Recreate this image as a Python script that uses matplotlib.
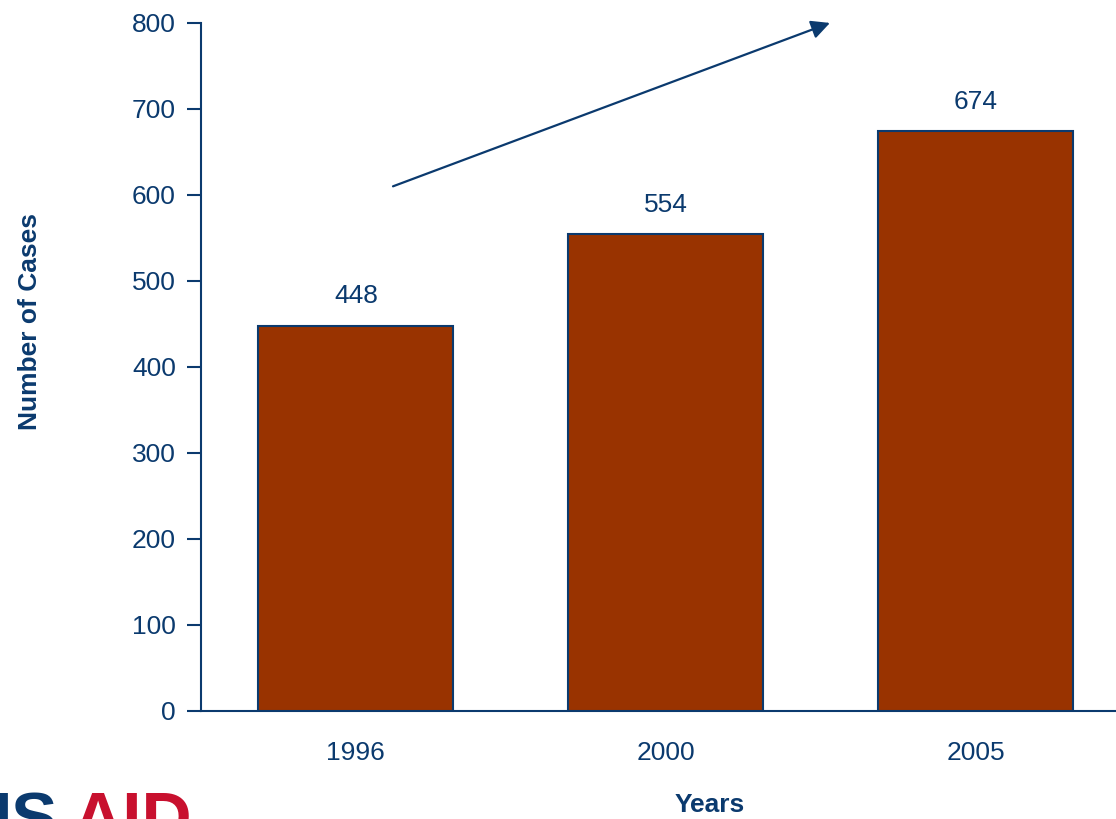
import matplotlib.pyplot as plt

plt.rcParams['font.family'] = ['Liberation Sans', 'DejaVu Sans']

# data
years = ['1996', '2000', '2005']
cases = [448, 554, 674]

NAVY = '#0B3A6E'
BAR = '#993300'

fig = plt.figure(figsize=(11.16, 8.19), dpi=100)
ax = fig.add_axes([0.180, 0.132, 0.833, 0.840])

x = range(len(years))
ax.bar(x, cases, width=0.63, color=BAR, edgecolor=NAVY, linewidth=1.5, zorder=3)
for xi, v in zip(x, cases):
    ax.text(xi, v + 20, str(v), ha='center', va='bottom', fontsize=19, color=NAVY)

ax.set_xlim(-0.5, 2.5)
ax.set_ylim(0, 800)
ax.set_yticks(range(0, 801, 100))
ax.set_xticks(list(x))
ax.set_xticklabels(years)
ax.tick_params(axis='y', direction='out', length=10, width=1.5, color=NAVY,
               labelcolor=NAVY, labelsize=19, pad=8)
ax.tick_params(axis='x', length=0, labelcolor=NAVY, labelsize=19, pad=22)
for s in ['top', 'right']:
    ax.spines[s].set_visible(False)
for s in ['left', 'bottom']:
    ax.spines[s].set_color(NAVY)
    ax.spines[s].set_linewidth(1.5)

# trend arrow
ax.annotate('', xy=(1.53, 800), xytext=(0.12, 610),
            arrowprops=dict(arrowstyle='-|>', color=NAVY, lw=1.6,
                            mutation_scale=28, shrinkA=0, shrinkB=0),
            annotation_clip=False)

fig.text(30 / 1116, 1 - 322 / 819, 'Number of Cases', rotation=90, ha='center',
         va='center', fontsize=19, fontweight='bold', color=NAVY)
fig.text(710 / 1116, 1 - 805 / 819, 'Years', ha='center', va='center',
         fontsize=19, fontweight='bold', color=NAVY)

# logo fragment at bottom left
fig.text(58 / 1116, -0.026, 'US', ha='right', va='baseline', fontsize=50,
         fontweight='bold', color=NAVY)
fig.text(192 / 1116, -0.026, 'AID', ha='right', va='baseline', fontsize=50,
         fontweight='bold', color='#C8102E')

fig.savefig('out.png', dpi=100)
